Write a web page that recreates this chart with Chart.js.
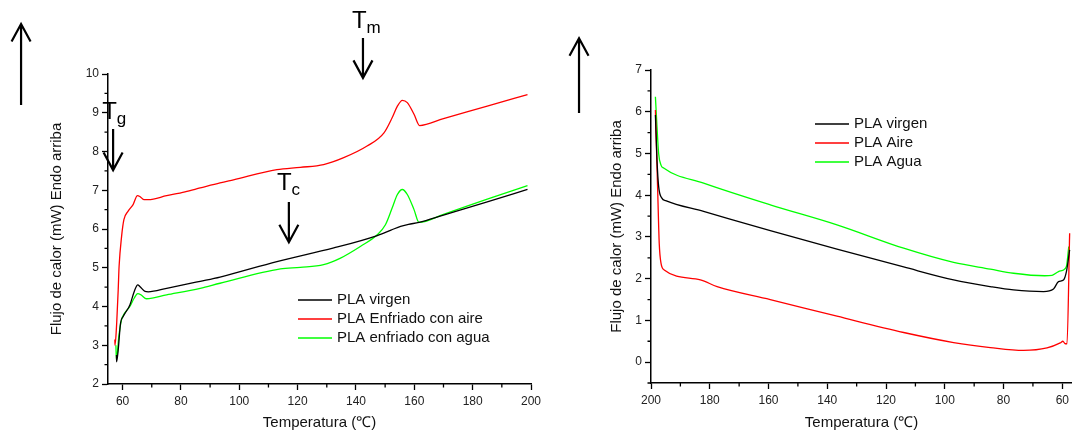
<!DOCTYPE html>
<html>
<head>
<meta charset="utf-8">
<script src="https://cdn.jsdelivr.net/npm/chart.js@4/dist/chart.umd.min.js"></script>
<style>
  html, body { margin: 0; padding: 0; background: #fff; }
  body { width: 1072px; height: 434px; position: relative; overflow: hidden; }
  .caja { position: absolute; top: 0; height: 434px; }
  #izq { left: 0; width: 560px; }
  #der { left: 560px; width: 512px; }
</style>
</head>
<body>
<div class="caja" id="izq"><canvas id="calentamiento"></canvas></div>
<div class="caja" id="der"><canvas id="enfriamiento"></canvas></div>
<script>
// ---- calentamiento (grafica izquierda) ----
var tempVirgen  = [57.9, 57.95, 58.5, 59.3, 60.2, 62.5, 64.0, 65.2, 66.0, 67.7, 68.8, 75.1, 86.6, 93.4, 112.9, 132.4, 147.3, 152.0, 155.3, 158.0, 161.6, 170.0, 185.0, 198.8];
var flujoVirgen = [2.75, 2.57, 2.88, 3.57, 3.74, 4.04, 4.39, 4.56, 4.51, 4.39, 4.38, 4.47, 4.65, 4.76, 5.16, 5.51, 5.83, 5.97, 6.07, 6.12, 6.17, 6.36, 6.70, 7.02];

var tempAire  = [57.35, 57.4, 58.0, 58.5, 58.8, 59.66, 60.45, 61.9, 63.6, 65.1, 65.9, 67.3, 68.8, 75.1, 81.4, 86.6, 93.4, 98.0, 112.9, 120.9, 128.9, 135.8, 143.8, 149.6, 152.4, 154.2, 155.9, 157.6, 159.9, 161.8, 170.0, 185.0, 198.8];
var flujoAire = [3.15, 3.0, 3.6, 4.43, 5.03, 5.81, 6.24, 6.46, 6.63, 6.86, 6.84, 6.76, 6.76, 6.86, 6.96, 7.06, 7.19, 7.27, 7.53, 7.59, 7.66, 7.84, 8.14, 8.48, 8.87, 9.17, 9.32, 9.26, 8.96, 8.67, 8.85, 9.17, 9.47];

var tempAgua  = [57.7, 57.9, 58.7, 59.6, 60.7, 62.5, 64.0, 65.2, 66.3, 68.2, 75.1, 86.6, 93.4, 114.1, 120.9, 128.9, 134.7, 141.5, 147.3, 150.1, 152.4, 154.2, 155.9, 157.6, 159.9, 161.6, 170.0, 185.0, 198.8];
var flujoAgua = [3.0, 2.62, 3.22, 3.65, 3.83, 4.0, 4.22, 4.33, 4.30, 4.20, 4.30, 4.47, 4.6, 4.97, 5.01, 5.08, 5.25, 5.55, 5.85, 6.11, 6.54, 6.89, 7.02, 6.89, 6.50, 6.17, 6.38, 6.77, 7.12];

// ---- enfriamiento (grafica derecha) ----
var tempVirgenEnf  = [198.5, 197.96, 197.4, 196.3, 195.0, 182.1, 159.4, 136.7, 114.0, 97.0, 84.5, 76.6, 66.4, 63.0, 61.3, 59.6, 58.6, 57.5];
var flujoVirgenEnf = [5.92, 4.84, 4.21, 3.93, 3.87, 3.61, 3.15, 2.71, 2.28, 1.97, 1.81, 1.73, 1.69, 1.75, 1.93, 1.97, 2.17, 2.69];

var tempAireEnf  = [198.5, 197.7, 197.2, 196.6, 195.5, 183.2, 177.5, 159.4, 136.7, 114.0, 97.0, 84.5, 73.2, 65.2, 60.7, 59.8, 59.0, 58.4, 57.5];
var flujoAireEnf = [6.04, 4.05, 2.85, 2.37, 2.21, 1.97, 1.81, 1.50, 1.10, 0.71, 0.47, 0.35, 0.28, 0.34, 0.46, 0.50, 0.44, 0.44, 3.09];

var tempAguaEnf  = [198.5, 197.96, 197.4, 196.6, 195.7, 182.1, 159.4, 136.7, 114.0, 97.0, 84.5, 76.6, 66.0, 63.5, 61.3, 59.9, 58.6, 57.8];
var flujoAguaEnf = [6.36, 5.64, 5.0, 4.72, 4.65, 4.29, 3.77, 3.29, 2.73, 2.39, 2.23, 2.13, 2.07, 2.08, 2.17, 2.2, 2.29, 2.77];

// ---- ticks ----
var ticksTemp = [60, 80, 100, 120, 140, 160, 180, 200];
var ticksTempMenor = [70, 90, 110, 130, 150, 170, 190];
var ticksFlujoCal = [2, 3, 4, 5, 6, 7, 8, 9, 10];
var ticksFlujoCalMenor = [2.5, 3.5, 4.5, 5.5, 6.5, 7.5, 8.5, 9.5];
var ticksFlujoEnf = [0, 1, 2, 3, 4, 5, 6, 7];
var ticksFlujoEnfMenor = [-0.5, 0.5, 1.5, 2.5, 3.5, 4.5, 5.5, 6.5];

var fuente = "'Liberation Sans', Arial, sans-serif";

function puntos(xs, ys) {
    return xs.map(function (x, i) { return { x: x, y: ys[i] }; });
}

function serie(label, xs, ys, color) {
    return {
        label: label,
        data: puntos(xs, ys),
        borderColor: color,
        backgroundColor: color,
        borderWidth: 1.3,
        pointRadius: 0,
        fill: false,
        cubicInterpolationMode: 'monotone'
    };
}

function flecha(ctx, x, y1, y2) {
    // y1 = cola, y2 = punta
    var dir = y2 < y1 ? 1 : -1;
    ctx.beginPath();
    ctx.moveTo(x, y1);
    ctx.lineTo(x, y2);
    ctx.moveTo(x - 9.5, y2 + dir * 17.5);
    ctx.lineTo(x, y2);
    ctx.lineTo(x + 9.5, y2 + dir * 17.5);
    ctx.stroke();
}

// ticks menores, leyenda y anotaciones
var extras = {
    id: 'extras',
    afterDraw: function (chart, args, o) {
        var ctx = chart.ctx, sx = chart.scales.x, sy = chart.scales.y;
        ctx.save();
        ctx.strokeStyle = '#000';
        ctx.lineWidth = 1.3;
        ctx.beginPath();
        o.xMenor.forEach(function (v) {
            var px = sx.getPixelForValue(v);
            ctx.moveTo(px, sx.top);
            ctx.lineTo(px, sx.top + 3.5);
        });
        o.yMenor.forEach(function (v) {
            var py = sy.getPixelForValue(v);
            ctx.moveTo(sy.right, py);
            ctx.lineTo(sy.right - 3.5, py);
        });
        ctx.stroke();

        // leyenda
        ctx.font = '15px ' + fuente;
        ctx.textBaseline = 'middle';
        chart.data.datasets.forEach(function (d, i) {
            var y = o.leyenda.y + i * 19;
            ctx.strokeStyle = d.borderColor;
            ctx.lineWidth = 1.3;
            ctx.beginPath();
            ctx.moveTo(o.leyenda.x, y);
            ctx.lineTo(o.leyenda.x + 34, y);
            ctx.stroke();
            ctx.fillStyle = '#111';
            ctx.fillText(d.label, o.leyenda.x + 39, y);
        });

        // flechas
        ctx.strokeStyle = '#000';
        ctx.lineWidth = 2.2;
        o.flechas.forEach(function (f) {
            flecha(ctx, sx.getPixelForValue(f[0]), sy.getPixelForValue(f[1]), sy.getPixelForValue(f[2]));
        });

        // etiquetas T con subindice
        ctx.fillStyle = '#000';
        ctx.textBaseline = 'alphabetic';
        o.etiquetas.forEach(function (e) {
            var px = sx.getPixelForValue(e.x), py = sy.getPixelForValue(e.y);
            ctx.font = '24px ' + fuente;
            ctx.fillText('T', px, py);
            ctx.font = '17px ' + fuente;
            ctx.fillText(e.sub, px + 14.5, py + 5);
        });
        ctx.restore();
    }
};

function opciones(c) {
    return {
        responsive: true,
        maintainAspectRatio: false,
        animation: false,
        layout: { padding: c.padding },
        plugins: {
            legend: { display: false },
            tooltip: { enabled: false },
            extras: c.extras
        },
        scales: {
            x: {
                type: 'linear',
                min: c.xMin,
                max: c.xMax,
                reverse: c.reverse,
                afterBuildTicks: function (s) { s.ticks = ticksTemp.map(function (v) { return { value: v }; }); },
                afterFit: function (s) { s.height = c.xAlto; s.paddingLeft = 0; s.paddingRight = 0; },
                grid: { drawOnChartArea: false, tickLength: 6, tickColor: '#000', tickWidth: 1.3 },
                border: { color: '#000', width: 1.5 },
                ticks: { color: '#222', font: { size: 12, family: fuente }, padding: 4, maxRotation: 0, autoSkip: false },
                title: { display: true, text: 'Temperatura (\u2103)', color: '#111', font: { size: 15, family: fuente }, padding: { top: 0, bottom: 2 } }
            },
            y: {
                type: 'linear',
                min: c.yMin,
                max: c.yMax,
                afterBuildTicks: function (s) { s.ticks = c.yTicks.map(function (v) { return { value: v }; }); },
                afterFit: function (s) { s.width = c.yAncho; s.paddingTop = 0; s.paddingBottom = 0; },
                grid: { drawOnChartArea: false, tickLength: 6, tickColor: '#000', tickWidth: 1.3 },
                border: { color: '#000', width: 1.5 },
                ticks: { color: '#222', font: { size: 12, family: fuente }, padding: 3, autoSkip: false },
                title: { display: true, text: c.yTitulo, color: '#111', font: { size: 15, family: fuente }, padding: { top: 48, bottom: 0 } }
            }
        }
    };
}

new Chart(document.getElementById('calentamiento'), {
    type: 'line',
    data: {
        datasets: [
            serie('PLA virgen', tempVirgen, flujoVirgen, '#000000'),
            serie('PLA Enfriado con aire', tempAire, flujoAire, '#ff0000'),
            serie('PLA enfriado con agua', tempAgua, flujoAgua, '#00ff00')
        ]
    },
    options: opciones({
        padding: { top: 74, right: 29, bottom: 0, left: 0 },
        xMin: 55, xMax: 200, reverse: false, xAlto: 50,
        yMin: 2, yMax: 10, yTicks: ticksFlujoCal, yAncho: 108,
        yTitulo: 'Flujo de calor (mW) Endo arriba',
        extras: {
            xMenor: ticksTempMenor,
            yMenor: ticksFlujoCalMenor,
            leyenda: { x: 298, y: 300 },
            flechas: [[25.2, 9.2, 11.29], [142.4, 10.93, 9.9], [56.75, 8.58, 7.52], [117.0, 6.7, 5.66]],
            etiquetas: [{ x: 138.6, y: 11.19, sub: 'm' }, { x: 53.0, y: 8.84, sub: 'g' }, { x: 112.9, y: 7.01, sub: 'c' }]
        }
    }),
    plugins: [extras]
});

new Chart(document.getElementById('enfriamiento'), {
    type: 'line',
    data: {
        datasets: [
            serie('PLA virgen', tempVirgenEnf, flujoVirgenEnf, '#000000'),
            serie('PLA Aire', tempAireEnf, flujoAireEnf, '#ff0000'),
            serie('PLA Agua', tempAguaEnf, flujoAguaEnf, '#00ff00')
        ]
    },
    options: opciones({
        padding: { top: 70, right: 0, bottom: 0, left: 0 },
        xMin: 56.7, xMax: 200, reverse: true, xAlto: 51,
        yMin: -0.5, yMax: 7, yTicks: ticksFlujoEnf, yAncho: 91,
        yTitulo: 'Flujo de calor (mW) Endo arriba',
        extras: {
            xMenor: ticksTempMenor,
            yMenor: ticksFlujoEnfMenor,
            leyenda: { x: 255, y: 124 },
            flechas: [[224.5, 5.97, 7.76]],
            etiquetas: []
        }
    }),
    plugins: [extras]
});
</script>
</body>
</html>
